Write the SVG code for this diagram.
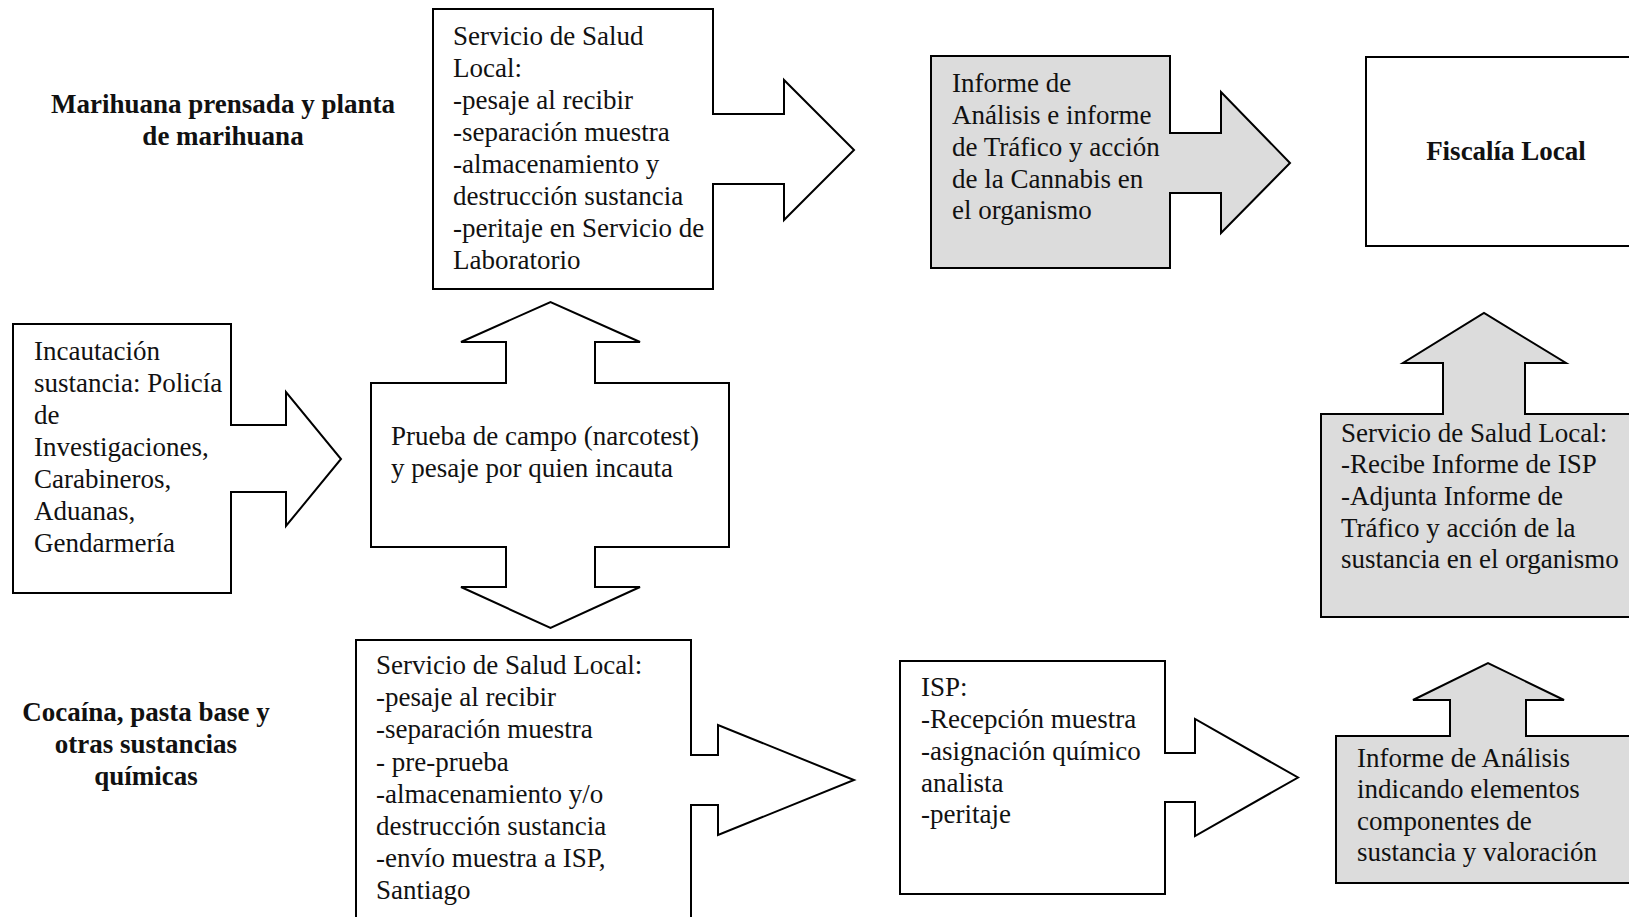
<svg xmlns="http://www.w3.org/2000/svg" width="1629" height="917" viewBox="0 0 1629 917">
<style>
.sh{fill:#ffffff;stroke:#000;stroke-width:2;stroke-linejoin:miter}
.gr{fill:#dcdcdc;stroke:#000;stroke-width:2;stroke-linejoin:miter}
text{font-family:"Liberation Serif","Times New Roman",serif;font-size:27px;fill:#111}
.b{font-weight:bold;text-anchor:middle}
</style>
<rect width="1629" height="917" fill="#fff"/>
<g id="title-marihuana">
<text class="b" x="223" y="113" font-size="27.5">Marihuana prensada y planta</text>
<text class="b" x="223" y="145" font-size="27.5">de marihuana</text>
</g>
<g id="title-cocaina">
<text class="b" x="146" y="721" font-size="28">Cocaína, pasta base y</text>
<text class="b" x="146" y="753" font-size="28">otras sustancias</text>
<text class="b" x="146" y="785" font-size="28">químicas</text>
</g>
<g id="connectors">
</g>
<g id="incautacion">
<path class="sh" d="M13,324 H231 V425 H286 V392 L341,459 L286,526 V492 H231 V593 H13 Z"/>
<text x="34" y="360">Incautación</text>
<text x="34" y="392">sustancia: Policía</text>
<text x="34" y="424">de</text>
<text x="34" y="456">Investigaciones,</text>
<text x="34" y="488">Carabineros,</text>
<text x="34" y="520">Aduanas,</text>
<text x="34" y="552">Gendarmería</text>
</g>
<g id="prueba">
<path class="sh" d="M371,383 H506 V342 H461 L550.5,302 L640,342 H595 V383 H729 V547 H595 V587 H640 L550.5,628 L461,587 H506 V547 H371 Z"/>
<text x="391" y="445">Prueba de campo (narcotest)</text>
<text x="391" y="477">y pesaje por quien incauta</text>
</g>
<g id="ssl-marihuana">
<path class="sh" d="M433,9 H713 V114 H784 V80 L854,150 L784,220 V184 H713 V289 H433 Z"/>
<text x="453" y="45">Servicio de Salud</text>
<text x="453" y="77">Local:</text>
<text x="453" y="109">-pesaje al recibir</text>
<text x="453" y="141">-separación muestra</text>
<text x="453" y="173">-almacenamiento y</text>
<text x="453" y="205">destrucción sustancia</text>
<text x="453" y="237">-peritaje en Servicio de</text>
<text x="453" y="269">Laboratorio</text>
</g>
<g id="informe-cannabis">
<path class="gr" d="M931,56 H1170 V133 H1221 V92 L1290,163 L1221,233 V193 H1170 V268 H931 Z"/>
<text x="952" y="92">Informe de</text>
<text x="952" y="124">Análisis e informe</text>
<text x="952" y="156">de Tráfico y acción</text>
<text x="952" y="188">de la Cannabis en</text>
<text x="952" y="219">el organismo</text>
</g>
<g id="fiscalia">
<rect class="sh" x="1366" y="57" width="300" height="189"/>
<text class="b" x="1506" y="160">Fiscalía Local</text>
</g>
<g id="ssl-informe">
<path class="gr" d="M1660,414 H1525 V363 H1566 L1484,313 L1403,363 H1443 V414 H1321 V617 H1660 Z"/>
<text x="1341" y="442">Servicio de Salud Local:</text>
<text x="1341" y="473">-Recibe Informe de ISP</text>
<text x="1341" y="505">-Adjunta Informe de</text>
<text x="1341" y="537">Tráfico y acción de la</text>
<text x="1341" y="568">sustancia en el organismo</text>
</g>
<g id="ssl-cocaina">
<path class="sh" d="M356,640 H691 V755 H718 V725 L854,780 L718,835 V805 H691 V940 H356 Z"/>
<text x="376" y="674">Servicio de Salud Local:</text>
<text x="376" y="706">-pesaje al recibir</text>
<text x="376" y="738">-separación muestra</text>
<text x="376" y="771">- pre-prueba</text>
<text x="376" y="803">-almacenamiento y/o</text>
<text x="376" y="835">destrucción sustancia</text>
<text x="376" y="867">-envío muestra a ISP,</text>
<text x="376" y="899">Santiago</text>
</g>
<g id="isp">
<path class="sh" d="M900,661 H1165 V753 H1195 V719 L1298,777.5 L1195,836 V802 H1165 V894 H900 Z"/>
<text x="921" y="696">ISP:</text>
<text x="921" y="728">-Recepción muestra</text>
<text x="921" y="760">-asignación químico</text>
<text x="921" y="792">analista</text>
<text x="921" y="823">-peritaje</text>
</g>
<g id="informe-analisis">
<path class="gr" d="M1660,736 H1526 V700 H1564 L1488,663 L1413,700 H1450 V736 H1336 V883 H1660 Z"/>
<text x="1357" y="767">Informe de Análisis</text>
<text x="1357" y="798">indicando elementos</text>
<text x="1357" y="830">componentes de</text>
<text x="1357" y="861">sustancia y valoración</text>
</g>
</svg>
